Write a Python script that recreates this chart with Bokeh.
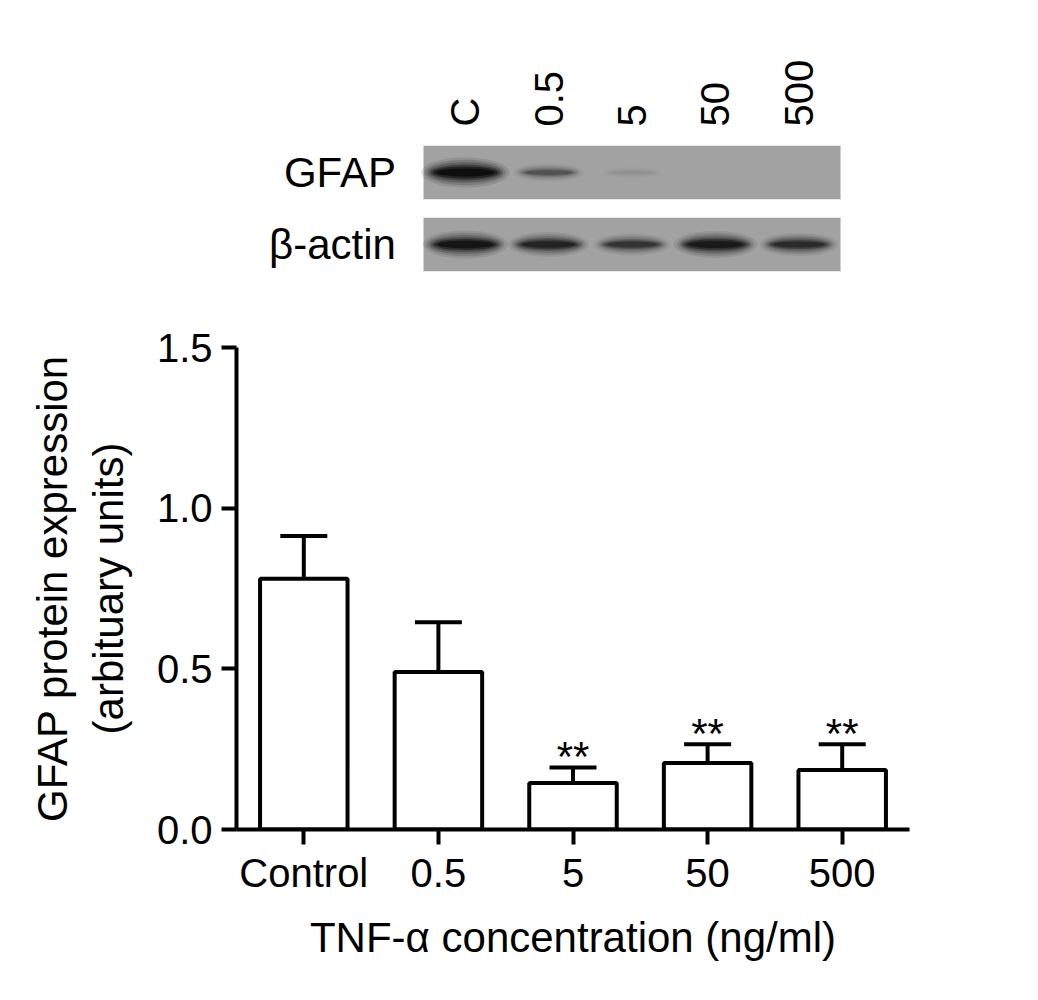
import numpy as np
from bokeh.plotting import figure
from bokeh.models import (FactorRange, Range1d, LinearAxis, FixedTicker, Whisker,
                          ColumnDataSource, TeeHead, PrintfTickFormatter)
from bokeh.layouts import column
from bokeh.embed import file_html
from bokeh.resources import INLINE
from bokeh.core.properties import value

# ---------------- data ----------------
categories = ["Control", "0.5", "5", "50", "500"]
means = [0.78, 0.49, 0.145, 0.207, 0.185]
sems = [0.133, 0.155, 0.048, 0.058, 0.08]
significance = ["", "", "**", "**", "**"]
y_ticks = [0.0, 0.5, 1.0, 1.5]

lanes = ["C", "0.5", "5", "50", "500"]
blot_rows = ["β-actin", "GFAP"]
gfap_band = [1.0, 0.33, 0.05, 0.0, 0.0]
actin_band = [0.88, 0.7, 0.55, 0.82, 0.62]

FONT = "Liberation Sans"
W = 949
LEFT = 236
RIGHT = 40

# ---------------- western blot panel ----------------
lane_pos = [i + 0.5 for i in range(len(lanes))]
pb = figure(width=W, height=300, x_range=Range1d(-2.242, 5.827),
            y_range=FactorRange(*blot_rows), x_axis_location="above",
            output_backend="svg", toolbar_location=None,
            min_border_left=LEFT, min_border_right=RIGHT,
            min_border_top=136, min_border_bottom=20)
pb.grid.visible = False
pb.outline_line_color = None
pb.yaxis.visible = False
xa = pb.xaxis[0]
xa.ticker = FixedTicker(ticks=lane_pos)
xa.major_label_overrides = {t: lab for t, lab in zip(lane_pos, lanes)}
xa.axis_line_color = None
xa.major_tick_line_color = None
xa.minor_tick_line_color = None
xa.major_label_text_font = FONT
xa.major_label_text_color = "black"
xa.major_label_orientation = "vertical"
xa.major_label_text_font_size = "40px"
xa.major_label_standoff = 4

pb.rect(x=[len(lanes) / 2] * len(blot_rows), y=blot_rows, width=len(lanes),
        height=0.74, fill_color="#a2a2a2", line_color=None)

layers = [(1.25, 1.9, 0.1), (1.15, 1.6, 0.15), (1.07, 1.3, 0.22),
          (1.0, 1.0, 0.32), (0.92, 0.75, 0.45), (0.82, 0.5, 0.58)]
for row, band in (("GFAP", gfap_band), ("β-actin", actin_band)):
    b = np.array(band)
    for sx, sy, a in layers:
        pb.ellipse(x=lane_pos, y=[row] * len(lanes),
                   width=list((0.6 + 0.25 * b) * sx),
                   height=list((0.09 + 0.13 * b) * sy),
                   fill_color="black", fill_alpha=list(np.clip(b * a, 0, 1)),
                   line_color=None)

pb.text(x=[-0.33] * len(blot_rows), y=blot_rows, text=blot_rows,
        text_font=value(FONT), text_font_size="42px", text_align="right",
        text_baseline="middle", text_color="black")

# ---------------- bar chart ----------------
p = figure(width=W, height=690, x_range=FactorRange(*categories),
           y_range=Range1d(0, 1.5), output_backend="svg", toolbar_location=None,
           min_border_left=LEFT, min_border_right=RIGHT,
           min_border_top=47, min_border_bottom=161)
p.grid.visible = False
p.outline_line_color = None

upper = [m + s for m, s in zip(means, sems)]
src = ColumnDataSource(dict(x=categories, top=means, lower=means, upper=upper,
                            sig=significance))
p.vbar(x="x", top="top", width=0.65, source=src, fill_color="white",
       line_color="black", line_width=4)
p.add_layout(Whisker(base="x", lower="lower", upper="upper", source=src,
                     dimension="height", line_color="black", line_width=4,
                     upper_head=TeeHead(size=47, line_width=4, line_color="black"),
                     lower_head=None))
p.text(x="x", y="upper", text="sig", source=src, text_font=value(FONT),
       text_font_size="42px", text_align="center", text_baseline="alphabetic",
       y_offset=-11, text_color="black")

for ax in (p.xaxis[0], p.yaxis[0]):
    ax.axis_line_width = 4
    ax.axis_line_color = "black"
    ax.major_tick_line_width = 4
    ax.major_tick_line_color = "black"
    ax.major_tick_out = 15
    ax.major_tick_in = 0
    ax.minor_tick_line_color = None
    ax.major_label_text_font = FONT
    ax.major_label_text_font_size = "40px"
    ax.major_label_text_color = "black"
    ax.axis_label_text_font = FONT
    ax.axis_label_text_font_size = "42px"
    ax.axis_label_text_font_style = "normal"
    ax.axis_label_text_color = "black"

p.yaxis.ticker = FixedTicker(ticks=y_ticks)
p.yaxis.formatter = PrintfTickFormatter(format="%.1f")
p.yaxis.major_label_standoff = 9
p.yaxis.axis_label = "(arbituary units)"
p.yaxis.axis_label_standoff = 22

p.xaxis.major_label_standoff = 6
p.xaxis.axis_label = "TNF-α concentration (ng/ml)"
p.xaxis.axis_label_standoff = 16

ax2 = LinearAxis(ticker=FixedTicker(ticks=[]), axis_label="GFAP protein expression",
                 axis_line_color=None, major_tick_line_color=None,
                 minor_tick_line_color=None, major_tick_out=0, major_label_standoff=0,
                 axis_label_standoff=6, axis_label_text_font=FONT,
                 axis_label_text_font_size="42px", axis_label_text_font_style="normal",
                 axis_label_text_color="black")
p.add_layout(ax2, "left")

layout = column(pb, p, spacing=0)
open("out.html", "w").write(file_html(layout, INLINE))
